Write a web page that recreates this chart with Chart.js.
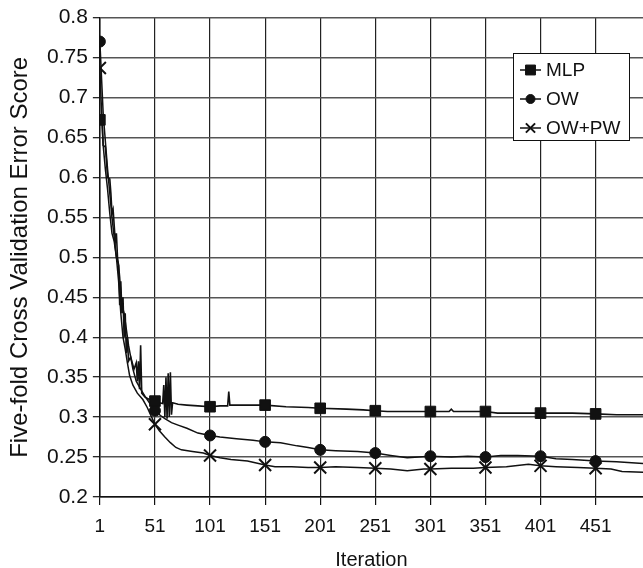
<!DOCTYPE html>
<html>
<head>
<meta charset="utf-8">
<script src="https://cdn.jsdelivr.net/npm/chart.js@4/dist/chart.umd.min.js"></script>
<style>
  html, body { margin: 0; padding: 0; background: #fff; overflow: hidden; }
  #wrap { width: 643px; height: 568px; position: relative; }
</style>
</head>
<body>
<div id="wrap"><canvas id="c" width="643" height="568"></canvas></div>
<script>
// Iteration ticks on the x axis and score ticks on the y axis
const xTickValues = [1, 51, 101, 151, 201, 251, 301, 351, 401, 451];
const yTickValues = [0.2, 0.25, 0.3, 0.35, 0.4, 0.45, 0.5, 0.55, 0.6, 0.65, 0.7, 0.75, 0.8];

const seriesNames = ['MLP', 'OW', 'OW+PW'];

// [iteration, error score]
const mlpPoints = [
  [1,0.672],[2,0.672],[3,0.670],[4,0.640],[6,0.638],[7,0.620],[8,0.600],[10,0.598],
  [11,0.580],[12,0.555],[13,0.560],[14,0.540],[15,0.520],[16,0.530],[17,0.500],[18,0.490],
  [19,0.440],[20,0.470],[21,0.430],[22,0.450],[23,0.400],[24,0.430],[25,0.380],[26,0.400],
  [27,0.370],[29,0.375],[30,0.370],[32,0.360],[34,0.368],[35,0.345],[36,0.370],[37,0.335],
  [38,0.390],[39,0.330],[42,0.325],[46,0.322],[51,0.320],[55,0.318],[58,0.317],[59,0.340],
  [60,0.300],[61,0.350],[62,0.298],[63,0.355],[64,0.300],[65,0.356],[66,0.303],[67,0.318],
  [72,0.316],[80,0.315],[90,0.314],[101,0.313],[110,0.314],[117,0.314],[118,0.332],[119,0.315],
  [130,0.315],[151,0.315],[170,0.313],[190,0.312],[201,0.311],[225,0.310],[240,0.309],[251,0.308],
  [262,0.307],[290,0.307],[301,0.307],[318,0.307],[320,0.310],[322,0.307],[340,0.307],[351,0.307],
  [362,0.305],[380,0.305],[401,0.305],[430,0.305],[451,0.304],[470,0.303],[494,0.303]
];

const owPoints = [
  [1,0.770],[2,0.740],[3,0.710],[4,0.680],[6,0.645],[8,0.610],[10,0.580],[12,0.550],
  [14,0.525],[16,0.500],[18,0.490],[19,0.475],[20,0.455],[21,0.440],[23,0.430],[25,0.410],
  [27,0.390],[29,0.375],[31,0.360],[34,0.345],[38,0.335],[42,0.326],[46,0.318],[51,0.308],
  [56,0.302],[60,0.298],[66,0.293],[72,0.290],[80,0.286],[90,0.280],[101,0.277],[110,0.275],
  [125,0.273],[140,0.271],[151,0.269],[165,0.268],[180,0.264],[190,0.262],[201,0.259],[215,0.258],
  [235,0.257],[251,0.255],[265,0.252],[280,0.249],[301,0.251],[320,0.250],[335,0.251],[351,0.250],
  [365,0.252],[380,0.252],[401,0.251],[415,0.248],[430,0.247],[451,0.245],[470,0.244],[494,0.242]
];

const owpwPoints = [
  [1,0.737],[2,0.700],[3,0.670],[4,0.640],[6,0.610],[8,0.585],[10,0.555],[12,0.530],
  [14,0.520],[16,0.500],[18,0.470],[20,0.430],[22,0.400],[24,0.385],[26,0.368],[28,0.352],
  [31,0.340],[35,0.330],[40,0.322],[44,0.312],[48,0.300],[51,0.291],[55,0.283],[60,0.275],
  [65,0.268],[70,0.262],[75,0.259],[85,0.257],[95,0.255],[101,0.252],[110,0.249],[120,0.247],
  [135,0.245],[145,0.242],[151,0.240],[160,0.238],[175,0.238],[190,0.237],[201,0.237],[215,0.238],
  [235,0.237],[251,0.236],[265,0.235],[280,0.233],[295,0.235],[301,0.235],[320,0.236],[340,0.236],
  [351,0.237],[370,0.238],[390,0.241],[401,0.239],[415,0.238],[435,0.237],[451,0.236],[465,0.235],
  [475,0.232],[494,0.231]
];

const toXY = pts => pts.map(([x, y]) => ({ x, y }));

// markers are drawn only on the labelled iterations
const markerRadius = r => ctx => (xTickValues.includes(ctx.raw.x) ? r : 0);

const FONT = "'Liberation Sans', Arial, sans-serif";

// legend drawn inside the plot, top right, in a white bordered box
const insetLegend = {
  id: 'insetLegend',
  afterDraw(chart, args, opts) {
    const ctx = chart.ctx;
    const { x, y, w, h, rowGap, firstRow } = opts;
    ctx.save();
    ctx.fillStyle = '#fff';
    ctx.fillRect(x, y, w, h);
    ctx.strokeStyle = '#111';
    ctx.lineWidth = 1;
    ctx.strokeRect(x + 0.5, y + 0.5, w, h);
    chart.data.datasets.forEach((ds, i) => {
      const cy = y + firstRow + i * rowGap;
      const x0 = x + 7, x1 = x + 28;
      ctx.strokeStyle = ds.borderColor;
      ctx.lineWidth = 1.5;
      ctx.beginPath();
      ctx.moveTo(x0, cy);
      ctx.lineTo(x1, cy);
      ctx.stroke();
      ctx.fillStyle = ds.pointBackgroundColor;
      ctx.strokeStyle = ds.pointBorderColor;
      ctx.lineWidth = ds.pointBorderWidth;
      Chart.helpers.drawPoint(ctx, {
        pointStyle: ds.pointStyle,
        radius: ds.legendRadius,
        borderWidth: ds.pointBorderWidth,
        rotation: 0
      }, (x0 + x1) / 2, cy);
      ctx.fillStyle = '#111';
      ctx.font = opts.font;
      ctx.textBaseline = 'middle';
      ctx.textAlign = 'left';
      ctx.fillText(ds.label, x1 + 5, cy + 1);
    });
    ctx.restore();
  }
};

new Chart(document.getElementById('c'), {
  type: 'line',
  data: {
    datasets: [
      {
        label: seriesNames[0],
        data: toXY(mlpPoints),
        borderColor: '#111',
        borderWidth: 1.6,
        pointStyle: 'rect',
        pointRadius: markerRadius(7.5),
        legendRadius: 7,
        pointBackgroundColor: '#111',
        pointBorderColor: '#111',
        pointBorderWidth: 1
      },
      {
        label: seriesNames[1],
        data: toXY(owPoints),
        borderColor: '#111',
        borderWidth: 1.5,
        pointStyle: 'circle',
        pointRadius: markerRadius(5.5),
        legendRadius: 4.5,
        pointBackgroundColor: '#111',
        pointBorderColor: '#111',
        pointBorderWidth: 1
      },
      {
        label: seriesNames[2],
        data: toXY(owpwPoints),
        borderColor: '#111',
        borderWidth: 1.5,
        pointStyle: 'crossRot',
        pointRadius: markerRadius(8.5),
        legendRadius: 6.5,
        pointBackgroundColor: '#111',
        pointBorderColor: '#111',
        pointBorderWidth: 2
      }
    ]
  },
  options: {
    responsive: false,
    animation: false,
    events: [],
    layout: { autoPadding: false, padding: { left: 8, top: 14.5, right: 0, bottom: 0 } },
    elements: { line: { tension: 0 } },
    plugins: {
      legend: { display: false },
      tooltip: { enabled: false },
      insetLegend: {
        x: 513, y: 53, w: 116, h: 87, firstRow: 17, rowGap: 29,
        font: "19px " + FONT
      }
    },
    scales: {
      x: {
        type: 'linear',
        min: 1,
        max: 494,
        afterBuildTicks: axis => { axis.ticks = xTickValues.map(v => ({ value: v })); },
        ticks: {
          color: '#111',
          font: { family: FONT, size: 19, lineHeight: 1.0 },
          padding: 12,
          maxRotation: 0,
          autoSkip: false,
          callback: v => String(v)
        },
        grid: {
          color: '#222',
          lineWidth: 1.2,
          borderDash: [2, 3],
          tickBorderDash: [],
          tickColor: '#111',
          tickLength: 8,
          tickWidth: 1.2,
          drawOnChartArea: true
        },
        border: { color: '#111', width: 1.5 },
        title: {
          display: true,
          text: 'Iteration',
          color: '#111',
          font: { family: FONT, size: 20, lineHeight: 0.8 },
          padding: { top: 4, bottom: 0 }
        }
      },
      y: {
        type: 'linear',
        min: 0.2,
        max: 0.8,
        afterBuildTicks: axis => { axis.ticks = yTickValues.map(v => ({ value: v })); },
        ticks: {
          color: '#111',
          font: { family: FONT, size: 21 },
          padding: 5,
          callback: v => String(Math.round(v * 100) / 100)
        },
        grid: {
          color: '#555',
          lineWidth: 1.4,
          tickColor: '#111',
          tickLength: 7,
          tickWidth: 1.2
        },
        border: { color: '#111', width: 1.5 },
        title: {
          display: true,
          text: 'Five-fold Cross Validation Error Score',
          color: '#111',
          font: { family: FONT, size: 24, lineHeight: 1.0 },
          padding: { top: 0, bottom: 10 }
        }
      }
    }
  },
  plugins: [insetLegend]
});
</script>
</body>
</html>
